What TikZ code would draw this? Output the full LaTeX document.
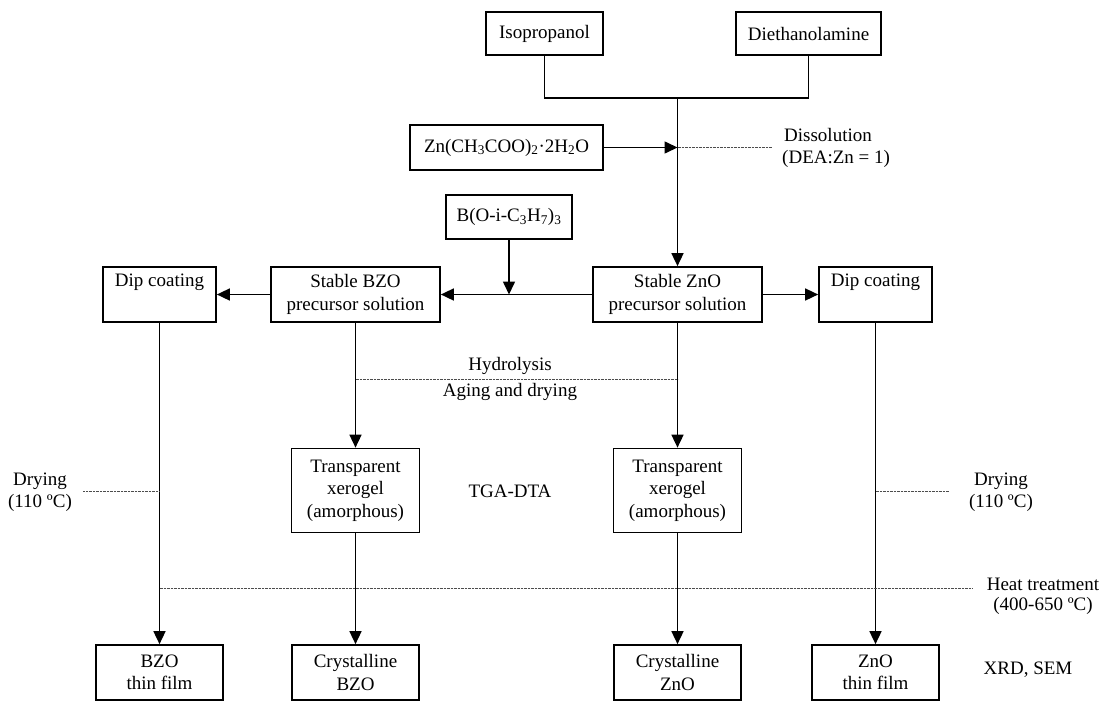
\documentclass[tikz,border=0pt]{standalone}
\usepackage{fontspec}
\setmainfont{Liberation Serif}
\usetikzlibrary{arrows.meta}
\begin{document}
\begin{tikzpicture}[x=1pt,y=-1pt,
  every node/.style={font=\fontsize{19}{22.5}\selectfont},
  box/.style n args={2}{draw,line width=1.7pt,minimum width=#1,minimum height=#2,inner sep=0pt,align=center},
  lbl/.style={align=center,inner sep=0pt},
  conn/.style={line width=1.6pt},
  arr/.style={line width=1.6pt,-{Triangle[length=13pt,width=12pt]}},
  dotl/.style={line width=1pt,gray!60!black,dash pattern=on 0.9pt off 0.5pt}]
\useasboundingbox (0,0) rectangle (1103,702);
% top
\node[box={117}{43}] (iso) at (544.5,33.5) {Isopropanol};
\node[box={145}{43}] (dea) at (808.5,33.5) {Diethanolamine};
\node[box={193}{45}] (zn) at (506.5,147.5) {Zn(CH\textsubscript{3}COO)\textsubscript{2}·2H\textsubscript{2}O};
\node[box={126}{44}] (bor) at (509,217) {B(O-i-C\textsubscript{3}H\textsubscript{7})\textsubscript{3}};
% second row
\node[box={113}{55}] (dipL) at (159.5,294.5) {Dip coating\\\strut};
\node[box={169}{55}] (bzo) at (355.5,294.5) {Stable BZO\\precursor solution};
\node[box={169}{55}] (zno) at (677.5,294.5) {Stable ZnO\\precursor solution};
\node[box={113}{55}] (dipR) at (875.5,294.5) {Dip coating\\\strut};
% xerogels
\node[box={128}{84}] (xgL) at (355.5,490.5) {Transparent\\xerogel\\(amorphous)};
\node[box={128}{84}] (xgR) at (677.5,490.5) {Transparent\\xerogel\\(amorphous)};
% bottom row
\node[box={127}{55}] (filmB) at (159.5,672.5) {BZO\\thin film};
\node[box={127}{55}] (crysB) at (355.5,672.5) {Crystalline\\BZO};
\node[box={127}{55}] (crysZ) at (677.5,672.5) {Crystalline\\ZnO};
\node[box={127}{55}] (filmZ) at (875.5,672.5) {ZnO\\thin film};
% labels
\node[lbl,anchor=west] (diss) at (784,135) {Dissolution};
\node[lbl,anchor=west] (dea1) at (782,159) {(DEA:Zn = 1)};
\node[lbl] (hyd) at (510,366) {Hydrolysis};
\node[lbl] (aging) at (510,392) {Aging and drying};
\node[lbl] (tga) at (510,491) {TGA-DTA};
\node[lbl] (dryL) at (40,481) {Drying};
\node[lbl] (dryL2) at (40,503) {(110 ºC)};
\node[lbl] (dryR) at (1001,481) {Drying};
\node[lbl] (dryR2) at (1001,503) {(110 ºC)};
\node[lbl] (heat) at (1043,584) {Heat treatment};
\node[lbl] (heat2) at (1043,606) {(400-650 ºC)};
\node[lbl] (xrd) at (1028,670) {XRD, SEM};
% coordinates
\coordinate (jl) at (iso.south |- 0,98);
\coordinate (jr) at (dea.south |- 0,98);
\coordinate (jm) at (zno.north |- 0,98);
\coordinate (jz) at (zno.north |- zn.east);
\coordinate (jb) at (bor.south |- bzo.east);
\coordinate (dissEnd) at (772,147.5);
\coordinate (hydL) at (bzo.south |- 0,379);
\coordinate (hydR) at (zno.south |- 0,379);
\coordinate (dryLa) at (83,491);
\coordinate (dryLb) at (dipL.south |- 0,491);
\coordinate (dryRa) at (dipR.south |- 0,491);
\coordinate (dryRb) at (949,491);
\coordinate (heatL) at (dipL.south |- 0,588);
\coordinate (heatR) at (972,588);
% connectors
\draw[conn] (iso.south) -- (jl) -- (jr) -- (dea.south);
\draw[arr] (jm) -- (zno.north);
\draw[arr] (zn.east) -- (jz);
\draw[dotl] (jz) -- (dissEnd);
\draw[arr] (bor.south) -- (jb);
\draw[arr] (zno.west) -- (bzo.east);
\draw[arr] (bzo.west) -- (dipL.east);
\draw[arr] (zno.east) -- (dipR.west);
\draw[arr] (bzo.south) -- (xgL.north);
\draw[arr] (zno.south) -- (xgR.north);
\draw[dotl] (hydL) -- (hydR);
\draw[arr] (dipL.south) -- (filmB.north);
\draw[arr] (xgL.south) -- (crysB.north);
\draw[arr] (xgR.south) -- (crysZ.north);
\draw[arr] (dipR.south) -- (filmZ.north);
\draw[dotl] (dryLa) -- (dryLb);
\draw[dotl] (dryRa) -- (dryRb);
\draw[dotl] (heatL) -- (heatR);
\end{tikzpicture}
\end{document}
